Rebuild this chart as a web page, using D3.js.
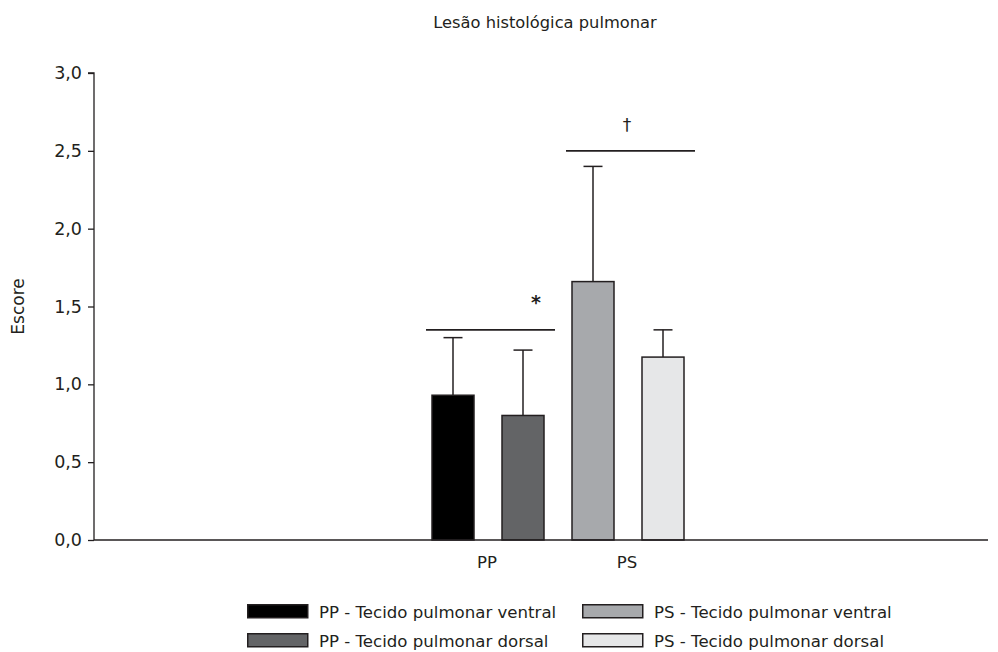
<!DOCTYPE html>
<html>
<head>
<meta charset="utf-8">
<script src="https://cdn.jsdelivr.net/npm/d3@7"></script>
<style>
  html, body { margin: 0; padding: 0; background: #fff; overflow: hidden; }
  svg { display: block; font-family: "DejaVu Sans", sans-serif; }
</style>
</head>
<body>
<svg id="chart" width="998" height="652"></svg>
<script>
// ---- data ----
const categories = ["PP", "PS"];
const seriesNames = ["Tecido pulmonar ventral", "Tecido pulmonar dorsal"];
const meanPP = [0.93, 0.80];
const meanPS = [1.66, 1.175];
const sdPP = [0.37, 0.42];
const sdPS = [0.74, 0.175];
const yTicks = [0, 0.5, 1.0, 1.5, 2.0, 2.5, 3.0];
const sigLevels = [1.35, 2.5];
const sigMarks = ["*", "\u2020"];
const titleText = "Lesão histológica pulmonar";
const yLabel = "Escore";

const colors = {
  "PP|Tecido pulmonar ventral": "#000000",
  "PP|Tecido pulmonar dorsal": "#636466",
  "PS|Tecido pulmonar ventral": "#a7a9ac",
  "PS|Tecido pulmonar dorsal": "#e6e7e8"
};

const means = { PP: meanPP, PS: meanPS };
const sds = { PP: sdPP, PS: sdPS };
const bars = [];
categories.forEach(c => seriesNames.forEach((s, i) => {
  bars.push({ cat: c, series: s, mean: means[c][i], sd: sds[c][i] });
}));

// ---- layout ----
const ink = "#231f20";
const svg = d3.select("#chart");
const axisLeft = 94, axisRight = 988, yBottom = 540, yTop = 73;

const y = d3.scaleLinear().domain([0, 3]).range([yBottom, yTop]);
const x0 = d3.scaleBand().domain(categories).range([418, 698]).padding(0);
const x1 = d3.scaleBand().domain(seriesNames).range([0, x0.bandwidth()])
  .paddingInner(0.4).paddingOuter(0.2);

// title
svg.append("text").attr("x", 545).attr("y", 28).attr("text-anchor", "middle")
  .attr("font-size", 16.3).attr("fill", ink).text(titleText);

// y axis
const yAxis = d3.axisLeft(y).tickValues(yTicks).tickSize(6).tickPadding(6)
  .tickFormat(d => d3.format(".1f")(d).replace(".", ","));
const gy = svg.append("g").attr("transform", `translate(${axisLeft},0)`).call(yAxis);
gy.attr("font-family", null).attr("font-size", null);
gy.select(".domain").attr("stroke", ink).attr("stroke-width", 1.3)
  .attr("d", `M-6,${yTop}H0V${yBottom}`);
gy.selectAll(".tick line").attr("stroke", ink).attr("stroke-width", 1.3);
gy.selectAll(".tick text").attr("font-size", 17.5).attr("fill", ink);

svg.append("text").attr("transform", `translate(24,${(yTop + yBottom) / 2}) rotate(-90)`)
  .attr("text-anchor", "middle").attr("font-size", 17).attr("fill", ink).text(yLabel);

// bars
const g = svg.append("g");
const bw = x1.bandwidth();
const capW = 19;

bars.forEach(b => {
  const bx = x0(b.cat) + x1(b.series);
  const cx = bx + bw / 2;
  g.append("line").attr("x1", cx).attr("x2", cx)
    .attr("y1", y(b.mean)).attr("y2", y(b.mean + b.sd))
    .attr("stroke", ink).attr("stroke-width", 1.5);
  g.append("line").attr("x1", cx - capW / 2).attr("x2", cx + capW / 2)
    .attr("y1", y(b.mean + b.sd)).attr("y2", y(b.mean + b.sd))
    .attr("stroke", ink).attr("stroke-width", 1.5);
  g.append("rect").attr("x", bx).attr("y", y(b.mean))
    .attr("width", bw).attr("height", y(0) - y(b.mean))
    .attr("fill", colors[b.cat + "|" + b.series])
    .attr("stroke", ink).attr("stroke-width", 1.5);
});

// x axis line
svg.append("line").attr("x1", axisLeft).attr("x2", axisRight)
  .attr("y1", yBottom).attr("y2", yBottom)
  .attr("stroke", ink).attr("stroke-width", 1.3);

// category labels
categories.forEach(c => {
  svg.append("text").attr("x", x0(c) + x0.bandwidth() / 2 - 1).attr("y", 568)
    .attr("text-anchor", "middle").attr("font-size", 16.5).attr("fill", ink).text(c);
});

// significance lines
categories.forEach((c, i) => {
  const xa = x0(c) + x1(seriesNames[0]) - 6;
  const xb = x0(c) + x1(seriesNames[1]) + bw + 11;
  const ly = y(sigLevels[i]);
  svg.append("line").attr("x1", xa).attr("x2", xb).attr("y1", ly).attr("y2", ly)
    .attr("stroke", ink).attr("stroke-width", 1.6);
});
// markers
svg.append("text").attr("x", 536).attr("y", y(sigLevels[0]) - 21)
  .attr("text-anchor", "middle").attr("font-size", 19).attr("font-weight", "bold")
  .attr("fill", ink).text(sigMarks[0]);
svg.append("text").attr("x", 627).attr("y", y(sigLevels[1]) - 20)
  .attr("text-anchor", "middle").attr("font-size", 17)
  .attr("fill", ink).text(sigMarks[1]);

// legend
const legendItems = [];
categories.forEach((c, ci) => seriesNames.forEach((s, si) => {
  legendItems.push({ cat: c, series: s, col: ci, row: si });
}));
const legX = [247, 582], legY = [604, 633];
const leg = svg.append("g");
legendItems.forEach(d => {
  leg.append("rect").attr("x", legX[d.col] + 0.75).attr("y", legY[d.row] + 0.75)
    .attr("width", 60).attr("height", 13)
    .attr("fill", colors[d.cat + "|" + d.series])
    .attr("stroke", ink).attr("stroke-width", 1.5);
  leg.append("text").attr("x", legX[d.col] + 72).attr("y", legY[d.row] + 14)
    .attr("font-size", 16.6).attr("fill", ink)
    .text(d.cat + " - " + d.series);
});
</script>
</body>
</html>
